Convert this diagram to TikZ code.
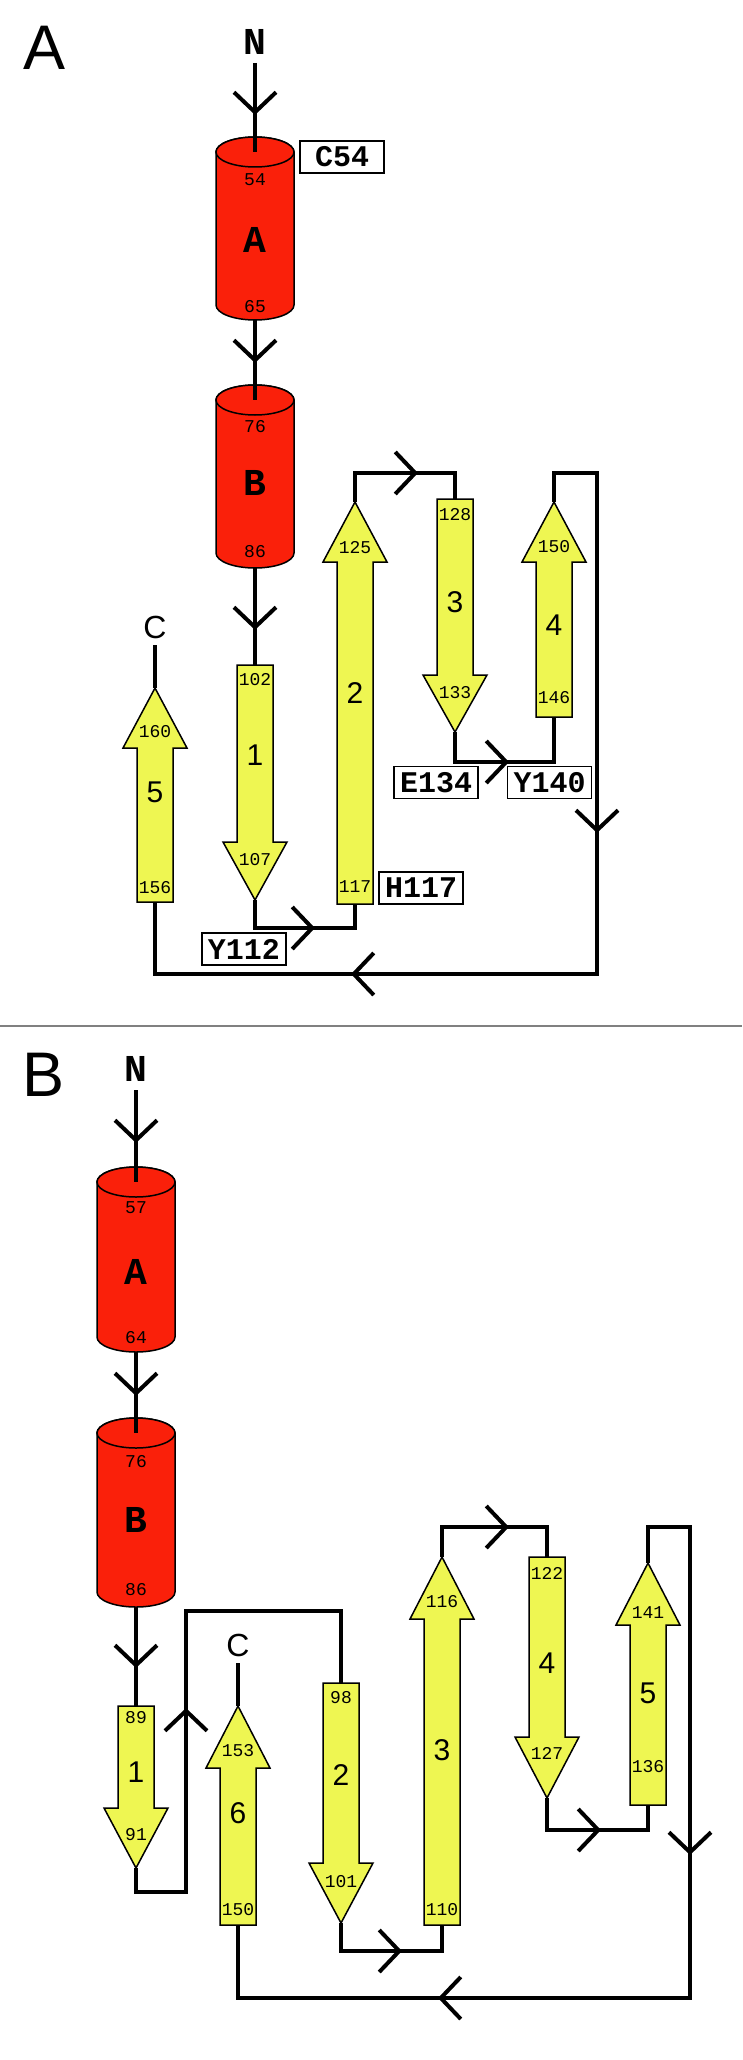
\documentclass[tikz,border=0pt]{standalone}
\usepackage{fontspec}
\setmainfont{Liberation Sans}
\newfontfamily\cour{Liberation Mono}
\usetikzlibrary{arrows.meta,decorations.markings}
\definecolor{hc}{RGB}{250,32,10}
\definecolor{sc}{RGB}{238,246,82}
\tikzset{hxs/.style={draw,fill=hc,line width=1.5pt},
 sheet/.style={draw,fill=sc,line width=1.5pt,line join=miter},
 lnk/.style={line width=4pt},
 chv/.style={postaction={decorate,decoration={markings,mark=at position #1 with {\arrow{Straight Barb[length=20pt,width=42pt]}}}}},
 res/.style={font=\cour\fontsize{18}{18}\selectfont,inner sep=0pt},
 num/.style={font=\fontsize{30}{30}\selectfont,inner sep=0pt},
 hlab/.style={font=\cour\bfseries\fontsize{38}{38}\selectfont,inner sep=0pt},
 nterm/.style={hlab,inner sep=8pt,anchor=south},
 cterm/.style={font=\fontsize{32}{32}\selectfont,inner sep=6pt,anchor=south},
 tag/.style={draw,line width=1.5pt,font=\cour\bfseries\fontsize{30}{30}\selectfont,minimum width=84pt,minimum height=32pt,inner sep=0pt},
 pan/.style={font=\fontsize{63}{63}\selectfont,inner sep=0pt}}
\newcommand{\helix}[4]{%
 \draw[hxs] (#2-39,#3) -- (#2-39,#4) arc[start angle=180,end angle=0,x radius=39,y radius=15] -- (#2+39,#3) arc[start angle=0,end angle=-180,x radius=39,y radius=15] -- cycle;
 \draw[hxs] (#2,#3) ellipse[x radius=39,y radius=15];
 \coordinate (#1u) at (#2,#3); \coordinate (#1d) at (#2,#4+15);}
\newcommand{\strand}[5]{%
 \draw[sheet] (#2-18,#3) -- (#2-18,#4) -- (#2-32,#4) -- (#2,#5) -- (#2+32,#4) -- (#2+18,#4) -- (#2+18,#3) -- cycle;
 \coordinate (#1s) at (#2,#3); \coordinate (#1t) at (#2,#5);}

\begin{document}
\begin{tikzpicture}[x=1pt,y=-1pt]
\useasboundingbox (0,0) rectangle (742,2060);
% panel A
\node[pan] (pA) at (45,48) {A};
\helix{ha}{255}{152}{305}\helix{hb}{255}{400}{553}
\strand{a1}{255}{665}{842}{900}\strand{a2}{355}{904}{562}{502}
\strand{a3}{455}{499}{675}{732}\strand{a4}{554}{717}{562}{502}
\strand{a5}{155}{902}{748}{688}
\node[nterm] (nA) at (255,63) {N};\node[cterm] (cA) at (155,645) {C};
\draw[lnk,chv=52pt] (nA) -- (hau);
\draw[lnk,chv=43pt] (had) -- (hbu);
\draw[lnk,chv=62pt] (hbd) -- (a1s);
\draw[lnk,chv=88pt] (a1t) -- ++(0,28) -| (a2s);
\draw[lnk,chv=92pt] (a2t) -- ++(0,-29) -| (a3s);
\draw[lnk,chv=84pt] (a3t) -- ++(0,30) -| (a4s);
\draw[lnk,chv=432pt,chv=819pt] (a4t) -- ++(0,-29) -- ++(43,0) -- ++(0,501) -| (a5s);
\draw[lnk] (cA) -- (a5t);
\node[hlab] (la) at (255,240) {A};\node[res] (r54) at (255,180) {54};\node[res] (r65) at (255,307) {65};
\node[hlab] (lb) at (255,483) {B};\node[res] (r76) at (255,427) {76};\node[res] (r86) at (255,552) {86};
\node[res] (r102) at (255,680) {102};\node[num] (s1) at (255,755) {1};\node[res] (r107) at (255,860) {107};
\node[res] (r125) at (355,548) {125};\node[num] (s2) at (355,693) {2};\node[res] (r117) at (355,887) {117};
\node[res] (r128) at (455,515) {128};\node[num] (s3) at (455,602) {3};\node[res] (r133) at (455,693) {133};
\node[res] (r150) at (554,547) {150};\node[num] (s4) at (554,625) {4};\node[res] (r146) at (554,698) {146};
\node[res] (r160) at (155,732) {160};\node[num] (s5) at (155,792) {5};\node[res] (r156) at (155,888) {156};
\node[tag] (t54) at (342,157) {C54};\node[tag] (t112) at (244,949) {Y112};\node[tag] (t117) at (421,888) {H117};
\node[tag] (t134) at (436,782.5) {E134};\node[tag] (t140) at (549.5,782.5) {Y140};
\draw[line width=2pt,gray] (0,1026) -- (742,1026);
% panel B
\node[pan] (pB) at (44,1075) {B};
\helix{hc}{136}{1182}{1337}\helix{hd}{136}{1433}{1592}
\strand{b1}{136}{1706}{1808}{1868}\strand{b2}{341}{1683}{1863}{1923}
\strand{b3}{442}{1925}{1619}{1557}\strand{b4}{547}{1557}{1737}{1798}
\strand{b5}{648}{1805}{1625}{1563}\strand{b6}{238}{1925}{1768}{1706}
\node[nterm] (nB) at (136,1090) {N};\node[cterm] (cB) at (238,1663) {C};
\draw[lnk,chv=53pt] (nB) -- (hcu);
\draw[lnk,chv=44pt] (hcd) -- (hdu);
\draw[lnk,chv=61pt] (hdd) -- (b1s);
\draw[lnk,chv=258pt] (b1t) -- ++(0,24) -- ++(50,0) -- ++(0,-281) -| (b2s);
\draw[lnk,chv=89pt] (b2t) -- ++(0,28) -| (b3s);
\draw[lnk,chv=97pt] (b3t) -- ++(0,-30) -| (b4s);
\draw[lnk,chv=86pt] (b4t) -- ++(0,32) -| (b5s);
\draw[lnk,chv=406pt,chv=801pt] (b5t) -- ++(0,-36) -- ++(42,0) -- ++(0,471) -| (b6s);
\draw[lnk] (cB) -- (b6t);
\node[hlab] (lc) at (136,1272) {A};\node[res] (q57) at (136,1208) {57};\node[res] (q64) at (136,1338) {64};
\node[hlab] (ld) at (136,1520) {B};\node[res] (q76) at (136,1462) {76};\node[res] (q86) at (136,1590) {86};
\node[res] (q89) at (136,1718) {89};\node[num] (u1) at (136,1772) {1};\node[res] (q91) at (136,1835) {91};
\node[res] (q98) at (341,1698) {98};\node[num] (u2) at (341,1775) {2};\node[res] (q101) at (341,1882) {101};
\node[res] (q116) at (442,1602) {116};\node[num] (u3) at (442,1750) {3};\node[res] (q110) at (442,1910) {110};
\node[res] (q122) at (547,1573) {122};\node[num] (u4) at (547,1663) {4};\node[res] (q127) at (547,1753) {127};
\node[res] (q141) at (648,1613) {141};\node[num] (u5) at (648,1693) {5};\node[res] (q136) at (648,1767) {136};
\node[res] (q153) at (238,1751) {153};\node[num] (u6) at (238,1813) {6};\node[res] (q150) at (238,1910) {150};
\end{tikzpicture}
\end{document}
